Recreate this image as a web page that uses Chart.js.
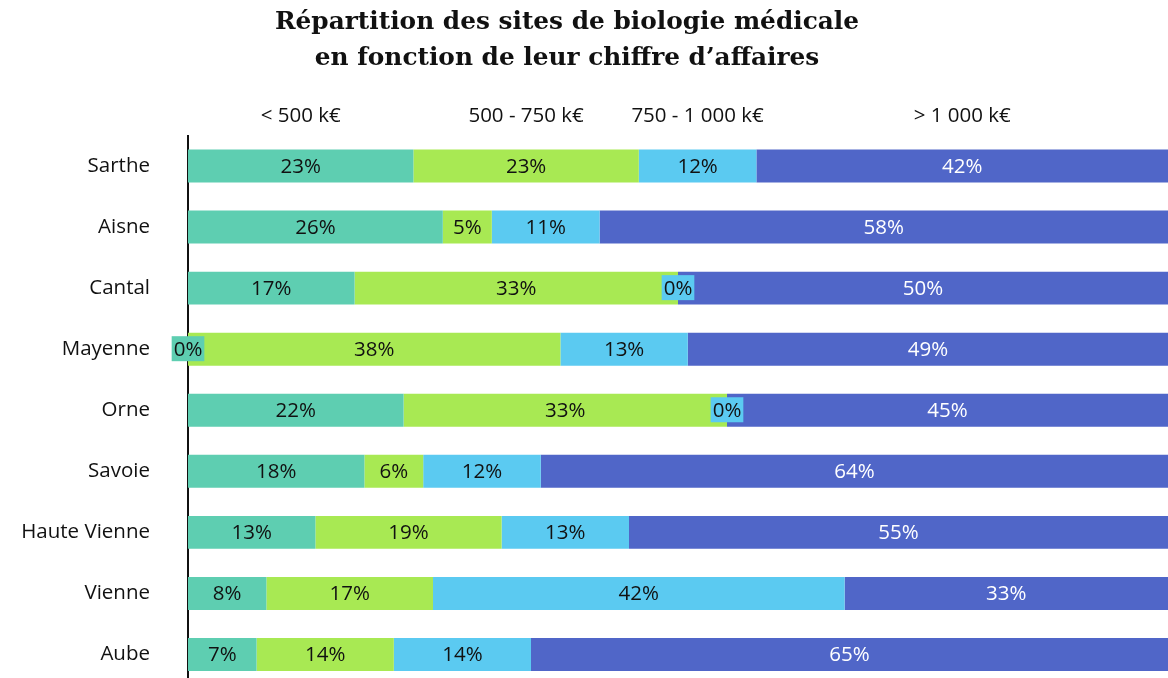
<!DOCTYPE html>
<html>
<head>
<meta charset="utf-8">
<script src="https://cdn.jsdelivr.net/npm/chart.js@4"></script>
<style>
html,body{margin:0;padding:0;background:#fff;overflow:hidden;}
#wrap{position:relative;width:1168px;height:685px;}
</style>
</head>
<body>
<div id="wrap"><canvas id="c"></canvas></div>
<script>
const categories = ["Sarthe","Aisne","Cantal","Mayenne","Orne","Savoie","Haute Vienne","Vienne","Aube"];
const seriesNames = ["< 500 k€","500 - 750 k€","750 - 1 000 k€","> 1 000 k€"];
const lt500 = [23,26,17,0,22,18,13,8,7];
const s500_750 = [23,5,33,38,33,6,19,17,14];
const s750_1000 = [12,11,0,13,0,12,13,42,14];
const gt1000 = [42,58,50,49,45,64,55,33,65];
const titleLines = ["Répartition des sites de biologie médicale", "en fonction de leur chiffre d’affaires"];
const colors = ["#5ECEB1","#A8E953","#5BCAF1","#5066C8"];
const labelColors = ["#111","#111","#111","#fff"];
const FONT = "'Open Sans', sans-serif";
const FSIZE = 20.5;
const TITLE_FONT = "bold 24.8px 'DejaVu Serif', serif";

const labelPlugin = {
  id:'segLabels',
  afterDatasetsDraw(chart){
    const ctx = chart.ctx;
    ctx.save();
    ctx.fillStyle = '#111';
    ctx.textAlign = 'center';
    ctx.textBaseline = 'middle';
    ctx.font = TITLE_FONT;
    ctx.fillText(titleLines[0], 567, 23);
    ctx.fillText(titleLines[1], 567, 59);

    ctx.font = FSIZE + "px " + FONT;
    chart.data.datasets.forEach((ds, di) => {
      const meta = chart.getDatasetMeta(di);
      meta.data.forEach((bar, i) => {
        const v = ds.data[i];
        const txt = v + '%';
        const x = (bar.x + bar.base) / 2;
        const y = bar.y;
        if (v === 0) {
          const w = ctx.measureText(txt).width + 4;
          ctx.fillStyle = ds.backgroundColor;
          ctx.fillRect(x - w/2, y - 13, w, 25);
        }
        ctx.fillStyle = labelColors[di];
        ctx.fillText(txt, x, y + 1);
      });
    });
    ctx.fillStyle = '#111';
    chart.data.datasets.forEach((ds, di) => {
      const bar = chart.getDatasetMeta(di).data[0];
      const x = (bar.x + bar.base) / 2;
      ctx.fillText(ds.label, x, 116);
    });
    ctx.restore();
  }
};

function build(){
  new Chart(document.getElementById('c'), {
    type: 'bar',
    data: {
      labels: categories,
      datasets: [
        {label: seriesNames[0], data: lt500, backgroundColor: colors[0]},
        {label: seriesNames[1], data: s500_750, backgroundColor: colors[1]},
        {label: seriesNames[2], data: s750_1000, backgroundColor: colors[2]},
        {label: seriesNames[3], data: gt1000, backgroundColor: colors[3]}
      ]
    },
    options: {
      responsive: true,
      maintainAspectRatio: false,
      indexAxis: 'y',
      animation: false,
      datasets: { bar: { categoryPercentage: 1, barPercentage: 0.54, borderWidth: 0 } },
      layout: { padding: { left: 0, right: 0, top: 135.5, bottom: 0 } },
      plugins: {
        legend: { display: false },
        tooltip: { enabled: false },
        title: { display: false }
      },
      scales: {
        x: { stacked: true, display: false, min: 0, max: 100 },
        y: {
          stacked: true,
          grid: { display: false, drawTicks: false },
          border: { display: true, color: '#111', width: 2 },
          ticks: { color: '#111', font: { family: FONT, size: FSIZE }, padding: 38 },
          afterFit(scale) { scale.width = 188; scale.paddingTop = 0; scale.paddingBottom = 0; }
        }
      }
    },
    plugins: [labelPlugin]
  });
}
Promise.all([
  document.fonts.load(FSIZE + "px 'Open Sans'"),
  document.fonts.load(TITLE_FONT)
]).then(build, build);
</script>
</body>
</html>
